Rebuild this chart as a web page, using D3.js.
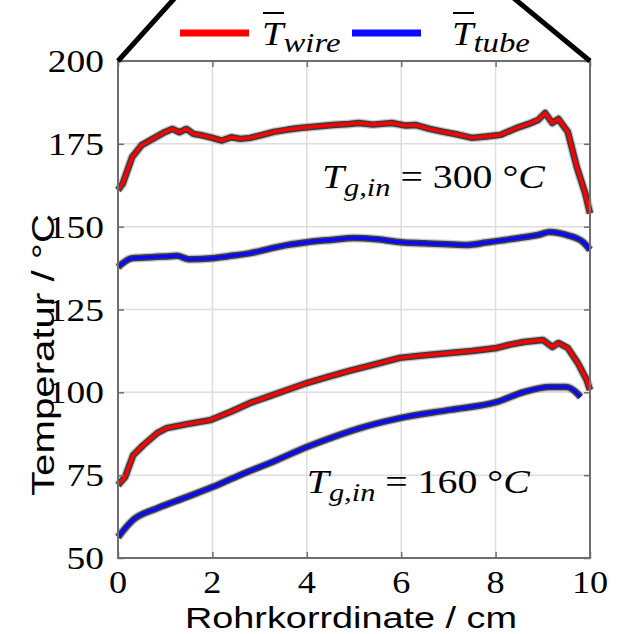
<!DOCTYPE html>
<html>
<head>
<meta charset="utf-8">
<script src="https://cdn.jsdelivr.net/npm/d3@7"></script>
<style>
  html, body { margin: 0; padding: 0; background: #fff; }
  svg { display: block; }
</style>
</head>
<body>
<div id="chart_container"></div>
<script>
// chart dimensions
const MARGIN = Object.freeze({ top: 61, right: 31, bottom: 76, left: 118 });
const WIDTH = 621 - MARGIN.left - MARGIN.right;
const HEIGHT = 634 - MARGIN.top - MARGIN.bottom;
const STRETCH = 1.17; // the text in the original is stretched horizontally

// tick labels
const xTicks = [0, 2, 4, 6, 8, 10];
const yTicks = [50, 75, 100, 125, 150, 175, 200];

// T_g,in = 300 °C, wire
const wire300X = [0, 0.1, 0.3, 0.5, 0.8, 1.0, 1.15, 1.3, 1.45, 1.6, 1.8, 2.0, 2.2, 2.4, 2.6, 2.8, 3.0, 3.3, 3.6, 3.85, 4.2, 4.55, 4.9, 5.1, 5.4, 5.8, 6.1, 6.3, 6.6, 6.9, 7.2, 7.5, 7.8, 8.1, 8.45, 8.7, 8.9, 9.05, 9.2, 9.33, 9.53, 9.72, 9.9, 10.0];
const wire300Y = [161, 163, 171, 174.6, 177, 178.6, 179.5, 178.5, 179.5, 178, 177.5, 176.8, 176, 177, 176.5, 176.8, 177.5, 178.6, 179.3, 179.8, 180.2, 180.7, 181, 181.3, 180.8, 181.3, 180.5, 180.7, 179.5, 178.6, 177.8, 176.8, 177.2, 177.7, 179.8, 181, 182.2, 184.3, 181.3, 182.5, 178.6, 168, 160, 154];

// T_g,in = 300 °C, tube
const tube300X = [0, 0.3, 0.7, 1.0, 1.25, 1.5, 2.0, 2.4, 2.8, 3.2, 3.6, 4.0, 4.5, 5.0, 5.5, 6.0, 6.5, 7.0, 7.4, 7.8, 8.2, 8.6, 8.9, 9.15, 9.5, 9.85, 10.0];
const tube300Y = [137.8, 140.5, 140.8, 141, 141.2, 140.2, 140.5, 141.2, 142, 143.3, 144.5, 145.3, 146, 146.6, 146.2, 145.3, 145, 144.7, 144.5, 145.2, 146, 146.8, 147.5, 148.4, 147.5, 145.4, 143];

// T_g,in = 160 °C, wire
const wire160X = [0, 0.15, 0.32, 0.53, 0.83, 1.03, 1.46, 1.95, 2.4, 2.8, 3.2, 3.58, 4.0, 4.43, 4.9, 5.4, 5.97, 6.5, 7.03, 7.5, 8.03, 8.3, 8.6, 9.0, 9.2, 9.33, 9.53, 9.74, 9.93, 10.0];
const wire160Y = [72, 74.4, 81, 84, 87.7, 89.2, 90.4, 91.6, 94.2, 96.8, 98.8, 100.7, 102.8, 104.6, 106.5, 108.3, 110.4, 111.2, 111.9, 112.5, 113.4, 114.4, 115.2, 115.8, 113.7, 114.9, 113.4, 108.9, 103.7, 100.7];

// T_g,in = 160 °C, tube
const tube160X = [0, 0.32, 0.83, 1.38, 2.0, 2.58, 3.37, 4.0, 4.56, 5.13, 5.97, 7.03, 8.03, 8.6, 9.15, 9.5, 9.72, 9.8];
const tube160Y = [56.3, 61.5, 65, 68, 71.4, 75, 79.6, 83.5, 86.5, 89.2, 92.2, 94.7, 97.1, 100.1, 101.6, 101.6, 99.8, 98.6];

// annotations: inlet gas temperature, anchored in data coords
const annoLabels = ["300", "160"];
const annoX = [4.32, 4.0];
const annoY = [161.7, 69.6];

const SERIES = [
  { xs: wire300X, ys: wire300Y, color: "#ff0000", curve: d3.curveLinear },
  { xs: tube300X, ys: tube300Y, color: "#0a0aff", curve: d3.curveMonotoneX },
  { xs: wire160X, ys: wire160Y, color: "#ff0000", curve: d3.curveLinear },
  { xs: tube160X, ys: tube160Y, color: "#0a0aff", curve: d3.curveMonotoneX },
];

const svg = d3
  .select("#chart_container")
  .append("svg")
  .attr("width", WIDTH + MARGIN.left + MARGIN.right)
  .attr("height", HEIGHT + MARGIN.top + MARGIN.bottom);

const chart = svg.append("g").attr("transform", `translate(${MARGIN.left},${MARGIN.top})`);

const x = d3.scaleLinear().domain([0, 10]).range([0, WIDTH]);
const y = d3.scaleLinear().domain([50, 200]).range([HEIGHT, 0]);

// grid
chart
  .append("g")
  .selectAll("line.gx")
  .data(xTicks.slice(1, -1))
  .enter()
  .append("line")
  .attr("x1", (d) => x(d))
  .attr("x2", (d) => x(d))
  .attr("y1", 0)
  .attr("y2", HEIGHT)
  .attr("stroke", "#dedede")
  .attr("stroke-width", 1.5);
chart
  .append("g")
  .selectAll("line.gy")
  .data(yTicks.slice(1, -1))
  .enter()
  .append("line")
  .attr("x1", 0)
  .attr("x2", WIDTH)
  .attr("y1", (d) => y(d))
  .attr("y2", (d) => y(d))
  .attr("stroke", "#dedede")
  .attr("stroke-width", 1.5);

// curves: grey band + dark outline + coloured line
SERIES.forEach((s) => {
  const line = d3.line().curve(s.curve);
  const pts = s.xs.map((v, i) => [x(v), y(s.ys[i])]);
  chart.append("path").attr("d", line(pts)).attr("fill", "none")
    .attr("stroke", "#888").attr("stroke-opacity", 0.45).attr("stroke-width", 9)
    .attr("stroke-linejoin", "round");
  chart.append("path").attr("d", line(pts)).attr("fill", "none")
    .attr("stroke", "#222").attr("stroke-opacity", 0.85).attr("stroke-width", 6.5)
    .attr("stroke-linejoin", "round");
  chart.append("path").attr("d", line(pts)).attr("fill", "none")
    .attr("stroke", s.color).attr("stroke-width", 3.5)
    .attr("stroke-linejoin", "round");
});

// axes: box with inward ticks on all four sides
const AXIS_COLOR = "#6e6e6e";
const styleAxis = (g) => {
  g.select(".domain").remove();
  g.selectAll(".tick line").attr("stroke", AXIS_COLOR).attr("stroke-width", 1.5);
  g.selectAll("text").remove();
};
chart.append("g").attr("transform", `translate(0,${HEIGHT})`)
  .call(d3.axisBottom(x).tickValues(xTicks).tickSizeInner(-6)).call(styleAxis);
chart.append("g")
  .call(d3.axisTop(x).tickValues(xTicks).tickSizeInner(-6)).call(styleAxis);
chart.append("g")
  .call(d3.axisLeft(y).tickValues(yTicks).tickSizeInner(-6)).call(styleAxis);
chart.append("g").attr("transform", `translate(${WIDTH},0)`)
  .call(d3.axisRight(y).tickValues(yTicks).tickSizeInner(-6)).call(styleAxis);
chart.append("rect").attr("width", WIDTH).attr("height", HEIGHT)
  .attr("fill", "none").attr("stroke", AXIS_COLOR).attr("stroke-width", 2);

// helper: horizontally stretched text
const stretched = (parent, px, py, anchor) =>
  parent.append("text")
    .attr("transform", `translate(${px},${py}) scale(${STRETCH},1)`)
    .attr("text-anchor", anchor);

// tick labels
xTicks.forEach((t) => {
  stretched(chart, x(t), HEIGHT + 35, "middle")
    .style("font-family", "'Liberation Serif', serif").style("font-size", "31px")
    .text(t);
});
yTicks.forEach((t) => {
  stretched(chart, -14, y(t) + 11, "end")
    .style("font-family", "'Liberation Serif', serif").style("font-size", "32px")
    .text(t);
});

// axis labels
svg.append("text")
  .attr("x", MARGIN.left + WIDTH / 2 - 3)
  .attr("y", 628)
  .attr("text-anchor", "middle")
  .attr("textLength", 332)
  .attr("lengthAdjust", "spacingAndGlyphs")
  .style("font-family", "'Liberation Sans', Arial, sans-serif")
  .style("font-size", "29px")
  .text("Rohrkorrdinate /  cm");
svg.append("text")
  .attr("transform", `translate(54,${355}) rotate(-90)`)
  .attr("text-anchor", "middle")
  .attr("textLength", 282)
  .attr("lengthAdjust", "spacingAndGlyphs")
  .style("font-family", "'Liberation Sans', Arial, sans-serif")
  .style("font-size", "31px")
  .text("Temperatur /  °C");

// annotations
annoLabels.forEach((lab, i) => {
  const t = stretched(chart, x(annoX[i]), y(annoY[i]), "start")
    .style("font-family", "'Liberation Serif', serif").style("font-size", "34px");
  t.append("tspan").style("font-style", "italic").text("T");
  t.append("tspan").attr("dy", 8).style("font-style", "italic").style("font-size", "26px").text("g,in");
  t.append("tspan").attr("dy", -8).text(` = ${lab} °`);
  t.append("tspan").style("font-style", "italic").text("C");
});

// zoom connector lines from the parent figure
const connectors = [[x(0), y(200), -55], [x(10), y(200), 74]];
connectors.forEach(([cx, cy, dx]) => {
  chart.append("line")
    .attr("x1", cx).attr("y1", cy)
    .attr("x2", cx - dx * 1.5).attr("y2", cy - 61 * 1.5)
    .attr("stroke", "#000").attr("stroke-width", 5);
});

// legend
const legend = svg.append("g");
const legendItems = [
  { color: "#ff0000", sub: "wire", x0: 180, tx: 262 },
  { color: "#0a0aff", sub: "tube", x0: 352, tx: 452 },
];
legendItems.forEach((d) => {
  legend.append("line")
    .attr("x1", d.x0).attr("x2", d.x0 + 69)
    .attr("y1", 33).attr("y2", 33)
    .attr("stroke", d.color).attr("stroke-width", 7);
  const t = stretched(legend, d.tx, 45, "start")
    .style("font-family", "'Liberation Serif', serif").style("font-size", "33px");
  t.append("tspan").style("font-style", "italic").text("T");
  t.append("tspan").attr("dy", 7).style("font-style", "italic").style("font-size", "28px").text(d.sub);
  legend.append("line")
    .attr("x1", d.tx + 1).attr("x2", d.tx + 22)
    .attr("y1", 13).attr("y2", 13)
    .attr("stroke", "#000").attr("stroke-width", 2);
});
</script>
</body>
</html>
